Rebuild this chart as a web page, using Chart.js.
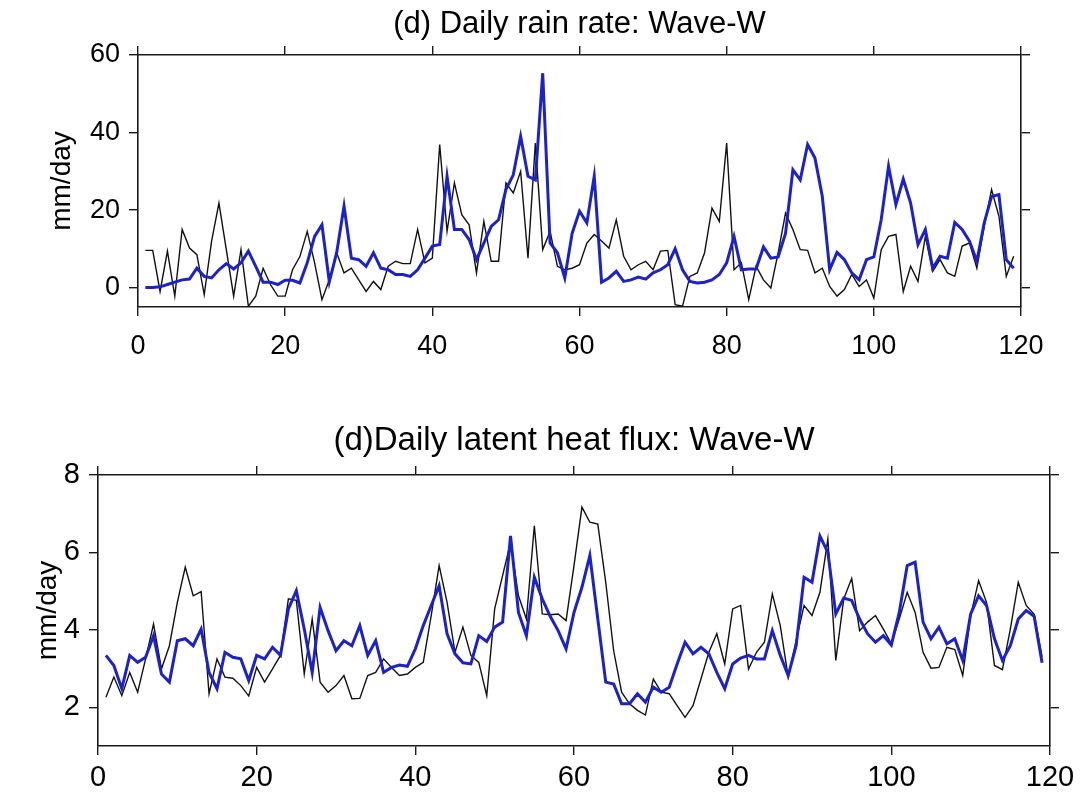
<!DOCTYPE html>
<html>
<head>
<meta charset="utf-8">
<script src="https://cdn.jsdelivr.net/npm/chart.js@4.4.1/dist/chart.umd.min.js"></script>
<style>
  html, body { margin: 0; padding: 0; background: #fff; }
  .panel { position: absolute; left: 0; width: 1082px; }
  #panelLluvia { top: 0; height: 400px; }
  #panelFlujo { top: 400px; height: 402px; }
</style>
</head>
<body>
<div class="panel" id="panelLluvia"><canvas id="graficoLluvia" width="1082" height="400"></canvas></div>
<div class="panel" id="panelFlujo"><canvas id="graficoFlujo" width="1082" height="402"></canvas></div>
<script>
// ========== DATOS ==========
// dias 1..119, linea negra = observado, linea azul = modelo
const marcasX = [0, 20, 40, 60, 80, 100, 120];
const marcasLluvia = [0, 20, 40, 60];
const marcasFlujo = [2, 4, 6, 8];

const lluviaNegra = [
  9.6, 9.6, -1, 9.4, -2.2, 15, 10.2, 8.5, -1.8, 12,
  21.8, 9.8, -2.2, 9.8, -4.8, -2.2, 5, 0.8, -2.2, -2.2,
  4.6, 8, 14.5, 6.4, -3.1, 2, 9, 3.8, 5, 2,
  -1, 1.6, -0.5, 5.5, 6.8, 6.2, 6.2, 15, 6.4, 7.6,
  36.9, 14.5, 27, 18.8, 16.2, 3.8, 17.1, 6.8, 6.8, 27,
  24.4, 30, 7.6, 37.3, 9.8, 14.5, 5.5, 4.6, 5, 5.9,
  11.5, 13.7, 12, 10.2, 17.5, 8.1, 4.6, 5.9, 6.8, 4.6,
  9.4, 9.6, -4.4, -4.8, 2.9, 3.8, 9, 20.5, 17.1, 37.3,
  4.6, 6.4, -3.1, 5.5, 2, -0.1, 9, 19.2, 15, 9.8,
  9.6, 3.8, 5, 0.3, -2.2, -0.5, 3.4, 0.3, 2, -2.7,
  9.8, 13.2, 13.7, -1, 5.5, 1.6, 13.2, 4.2, 7.2, 3.8,
  2.9, 10.7, 11.5, 5, 15.8, 25.3, 18.4, 2.9, 8.1
];
const lluviaAzul = [
  0, 0, 0.2, 0.8, 1.4, 2, 2.2, 5, 2.9, 2.5,
  4.6, 6.2, 4.8, 6.4, 9.4, 5.5, 1.4, 1.4, 0.8, 1.9,
  1.9, 1.2, 6.4, 13.2, 16.2, 1.5, 9, 21, 7.6, 7.2,
  5.5, 9, 5, 4.6, 3.4, 3.4, 2.9, 4.6, 7.6, 10.7,
  11.1, 28.7, 15, 15, 12.4, 7.2, 11.5, 15.8, 17.5, 25.3,
  29.1, 39, 28.7, 27.8, 55.3, 11.5, 9, 2.5, 14, 19.7,
  16.7, 28.7, 1.4, 2.5, 4.2, 1.6, 2, 2.7, 2.2, 3.8,
  4.6, 5.9, 10, 4.6, 1.6, 1.2, 1.4, 2, 3.4, 6.4,
  13.2, 4.6, 4.8, 4.8, 10.5, 7.6, 7.9, 14, 30.4, 27.8,
  36.9, 33.4, 23.5, 4.6, 9.1, 7.2, 3.8, 2, 7.2, 7.9,
  17.5, 31.3, 21.4, 28, 21.8, 11.1, 15, 5, 8.1, 7.6,
  16.8, 15, 12, 6.8, 16.7, 23.5, 24, 7.2, 5
];
const flujoNegro = [
  2.26, 2.78, 2.3, 2.9, 2.39, 3.25, 4.15, 2.99, 3.59, 4.71,
  5.62, 4.88, 4.99, 2.35, 3.25, 2.78, 2.75, 2.56, 2.29, 3.03,
  2.65, 2.99, 3.34, 4.8, 4.76, 2.86, 4.28, 2.65, 2.39, 2.56,
  2.82, 2.22, 2.23, 2.82, 2.9, 3.25, 3.03, 2.82, 2.86, 3.03,
  3.16, 4.37, 5.66, 4.71, 3.42, 4.07, 3.34, 3.16, 2.3, 4.54,
  5.4, 6.26, 4.88, 4.28, 6.69, 4.41, 4.39, 4.41, 4.24, 5.66,
  7.17, 6.78, 6.73, 5.23, 3.46, 2.39, 2.09, 1.92, 1.8, 2.73,
  2.39, 2.35, 2.04, 1.74, 2.04, 2.73, 3.42, 3.9, 3.12, 4.54,
  4.63, 2.99, 3.42, 3.68, 4.93, 4.11, 2.78, 3.72, 4.63, 4.37,
  4.97, 6.35, 3.21, 4.8, 5.33, 3.98, 4.2, 4.37, 4.02, 3.64,
  4.28, 4.97, 4.45, 3.42, 3.01, 3.03, 3.55, 3.49, 2.82, 4.37,
  5.27, 4.71, 3.08, 2.97, 4.02, 5.23, 4.63, 4.4, 3.3
];
const flujoAzul = [
  3.34, 3.08, 2.48, 3.34, 3.16, 3.29, 3.85, 2.86, 2.65, 3.72,
  3.77, 3.59, 4.02, 2.9, 2.48, 3.42, 3.29, 3.25, 2.69, 3.34,
  3.25, 3.55, 3.34, 4.54, 5.01, 4.02, 2.9, 4.58, 3.98, 3.46,
  3.72, 3.59, 4.11, 3.34, 3.72, 2.9, 3.03, 3.09, 3.06, 3.51,
  4.11, 4.63, 5.14, 3.9, 3.38, 3.15, 3.12, 3.85, 3.7, 4.07,
  4.2, 6.43, 4.45, 3.85, 5.36, 4.8, 4.35, 3.98, 3.51, 4.45,
  5.1, 5.92, 4.28, 2.65, 2.6, 2.09, 2.09, 2.35, 2.13, 2.52,
  2.39, 2.52, 3.12, 3.68, 3.38, 3.55, 3.38, 2.9, 2.48, 3.12,
  3.27, 3.34, 3.25, 3.25, 3.98, 3.34, 2.82, 3.59, 5.36, 5.23,
  6.42, 6, 4.41, 4.82, 4.76, 4.28, 3.9, 3.68, 3.85, 3.61,
  4.45, 5.66, 5.75, 4.2, 3.77, 4.07, 3.64, 3.77, 3.21, 4.41,
  4.88, 4.63, 3.77, 3.21, 3.59, 4.28, 4.5, 4.35, 3.15
];

// ========== ESTILO ==========
const FUENTE = '"Liberation Sans", Arial, Helvetica, sans-serif';
const COLOR_EJE = '#1a1a1a';
const AZUL = '#1c22c8';

const aPuntos = (serie) => serie.map((v, i) => ({ x: i + 1, y: v }));
const fijarMarcas = (lista) => (scale) => { scale.ticks = lista.map(v => ({ value: v })); };
const fijarAncho = (w) => (scale) => { scale.width = w; };
const fijarAlto = (h) => (scale) => { scale.height = h; };

function rejilla() {
  return {
    drawOnChartArea: false,
    drawTicks: true,
    tickLength: 9,
    color: COLOR_EJE,
    lineWidth: 1.4
  };
}
const borde = { display: true, color: COLOR_EJE, width: 1.6 };

// ========== PANEL ==========
function crearPanel(canvasId, p) {
  const ctx = document.getElementById(canvasId);
  return new Chart(ctx, {
    type: 'line',
    data: {
      datasets: [{
        data: aPuntos(p.azul),
        borderColor: AZUL,
        borderWidth: 3,
        pointRadius: 0,
        tension: 0,
        order: 0
      }, {
        data: aPuntos(p.negra),
        borderColor: '#111111',
        borderWidth: 1.4,
        pointRadius: 0,
        tension: 0,
        order: 1
      }]
    },
    options: {
      responsive: false,
      animation: false,
      events: [],
      layout: { padding: { left: p.izq, right: 0, top: 0, bottom: 0 } },
      plugins: {
        legend: { display: false },
        tooltip: { enabled: false },
        title: {
          display: true,
          fullSize: false,
          text: p.titulo,
          color: '#000',
          font: { family: FUENTE, size: p.tamTitulo, weight: 'normal', lineHeight: 1.2 },
          padding: { top: p.titArriba, bottom: p.titAbajo }
        }
      },
      scales: {
        x: {
          type: 'linear', position: 'bottom', min: 0, max: 120,
          afterBuildTicks: fijarMarcas(marcasX),
          afterFit: fijarAlto(p.altoX),
          grid: rejilla(), border: borde,
          ticks: {
            color: '#000', maxRotation: 0, padding: p.padX,
            font: { family: FUENTE, size: p.tamMarcas }
          }
        },
        x2: {
          type: 'linear', position: 'top', axis: 'x', min: 0, max: 120,
          afterBuildTicks: fijarMarcas(marcasX),
          afterFit: fijarAlto(10),
          grid: rejilla(), border: borde,
          ticks: { display: false }
        },
        y: {
          type: 'linear', position: 'left', min: p.min, max: p.max,
          afterBuildTicks: fijarMarcas(p.marcasY),
          afterFit: fijarAncho(p.anchoY),
          grid: rejilla(), border: borde,
          title: {
            display: true, text: 'mm/day', color: '#000',
            padding: { top: 0, bottom: 0 },
            font: { family: FUENTE, size: 28, lineHeight: 1.2 }
          },
          ticks: {
            color: '#000', padding: 9,
            font: { family: FUENTE, size: p.tamMarcas }
          }
        },
        y2: {
          type: 'linear', position: 'right', axis: 'y', min: p.min, max: p.max,
          afterBuildTicks: fijarMarcas(p.marcasY),
          afterFit: fijarAncho(p.anchoDer),
          grid: rejilla(), border: borde,
          ticks: { display: false }
        }
      }
    }
  });
}

// ========== GRAFICO LLUVIA ==========
crearPanel('graficoLluvia', {
  titulo: '(d) Daily rain rate: Wave-W',
  negra: lluviaNegra, azul: lluviaAzul,
  min: -5, max: 60, marcasY: marcasLluvia,
  izq: 45, anchoY: 93, anchoDer: 61, altoX: 93,
  tamTitulo: 31, titArriba: 5.4, titAbajo: 2.4,
  tamMarcas: 27, padX: 14
});

// ========== GRAFICO FLUJO ==========
crearPanel('graficoFlujo', {
  titulo: '(d)Daily latent heat flux: Wave-W',
  negra: flujoNegro, azul: flujoAzul,
  min: 1, max: 8, marcasY: marcasFlujo,
  izq: 31, anchoY: 67, anchoDer: 32, altoX: 56,
  tamTitulo: 33, titArriba: 21.2, titAbajo: 4.2,
  tamMarcas: 29, padX: 6
});
</script>
</body>
</html>
